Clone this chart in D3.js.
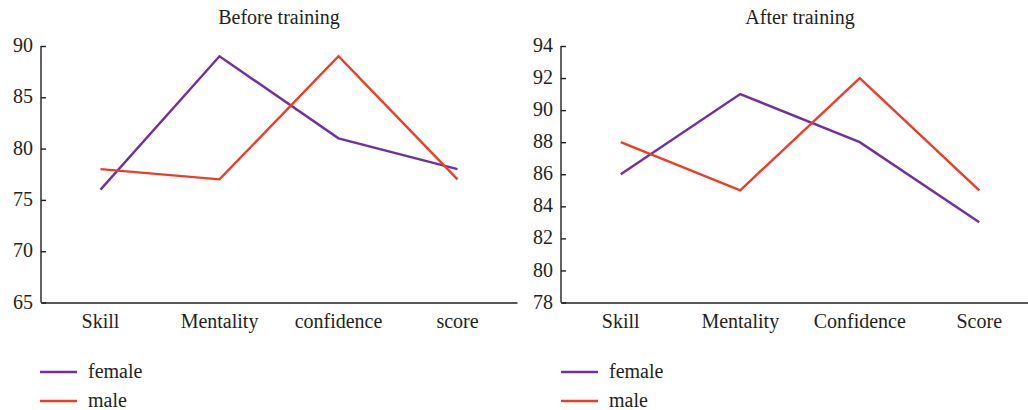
<!DOCTYPE html>
<html>
<head>
<meta charset="utf-8">
<script src="https://cdn.jsdelivr.net/npm/d3@7"></script>
<style>
  body { margin: 0; background: #fff; }
  text { font-family: "Liberation Serif", "DejaVu Serif", serif; fill: #231f20; }
</style>
</head>
<body>
<svg width="1028" height="410"></svg>
<script>
// data
const beforeCategories = ["Skill", "Mentality", "confidence", "score"];
const afterCategories = ["Skill", "Mentality", "Confidence", "Score"];
const beforeFemale = [76, 89, 81, 78];
const beforeMale = [78, 77, 89, 77];
const afterFemale = [86, 91, 88, 83];
const afterMale = [88, 85, 92, 85];
const beforeTicks = [65, 70, 75, 80, 85, 90];
const afterTicks = [78, 80, 82, 84, 86, 88, 90, 92, 94];
const seriesNames = ["female", "male"];
const colors = ["#7030a0", "#f03c24"];

const svg = d3.select("svg");

function drawPanel(opts) {
    const g = svg.append("g");

    const x = d3.scaleBand()
        .domain(opts.categories)
        .range([opts.x0, opts.x1]);

    const y = d3.scaleLinear()
        .domain([opts.ticks[0], opts.ticks[opts.ticks.length - 1]])
        .range([302.5, 46]);

    // title
    g.append("text")
        .attr("x", opts.titleX)
        .attr("y", 24)
        .attr("text-anchor", "middle")
        .style("font-size", "20px")
        .text(opts.title);

    // y axis
    const yAxis = g.append("g")
        .attr("transform", `translate(${opts.x0},0)`)
        .call(d3.axisRight(y).tickValues(opts.ticks).tickSize(5).tickFormat(d3.format("d")));
    yAxis.select(".domain").attr("d", `M0,${y.range()[1]}V${y.range()[0]}`);
    yAxis.selectAll("text")
        .attr("x", -8)
        .attr("dy", "0.28em")
        .attr("text-anchor", "end")
        .style("font-size", "20px")
        .style("font-family", '"Liberation Serif", serif');

    // x axis
    const xAxis = g.append("g")
        .attr("transform", `translate(0,${y.range()[0]})`)
        .call(d3.axisBottom(x).tickSize(0).tickPadding(11));
    xAxis.selectAll("text")
        .style("font-size", "20px")
        .style("font-family", '"Liberation Serif", serif');

    g.selectAll(".domain, .tick line")
        .attr("stroke", "#231f20")
        .attr("stroke-width", 1.4);

    // lines
    const line = d3.line()
        .x((d, i) => x(opts.categories[i]) + x.bandwidth() / 2)
        .y(d => y(d));

    opts.series.forEach((s, i) => {
        g.append("path")
            .datum(s)
            .attr("fill", "none")
            .attr("stroke", colors[i])
            .attr("stroke-width", 2.4)
            .attr("stroke-linejoin", "miter")
            .attr("d", line);
    });

    // legend
    const legend = g.append("g")
        .attr("transform", `translate(${opts.legendX},372)`);
    seriesNames.forEach((name, i) => {
        legend.append("line")
            .attr("x1", 0).attr("x2", 37)
            .attr("y1", i * 29).attr("y2", i * 29)
            .attr("stroke", colors[i])
            .attr("stroke-width", 2.4);
        legend.append("text")
            .attr("x", 48)
            .attr("y", i * 29 + 6)
            .style("font-size", "20px")
            .text(name);
    });
}

drawPanel({
    title: "Before training",
    titleX: 279,
    categories: beforeCategories,
    series: [beforeFemale, beforeMale],
    ticks: beforeTicks,
    x0: 41, x1: 517,
    legendX: 40
});

drawPanel({
    title: "After training",
    titleX: 800,
    categories: afterCategories,
    series: [afterFemale, afterMale],
    ticks: afterTicks,
    x0: 561, x1: 1039,
    legendX: 561
});
</script>
</body>
</html>
